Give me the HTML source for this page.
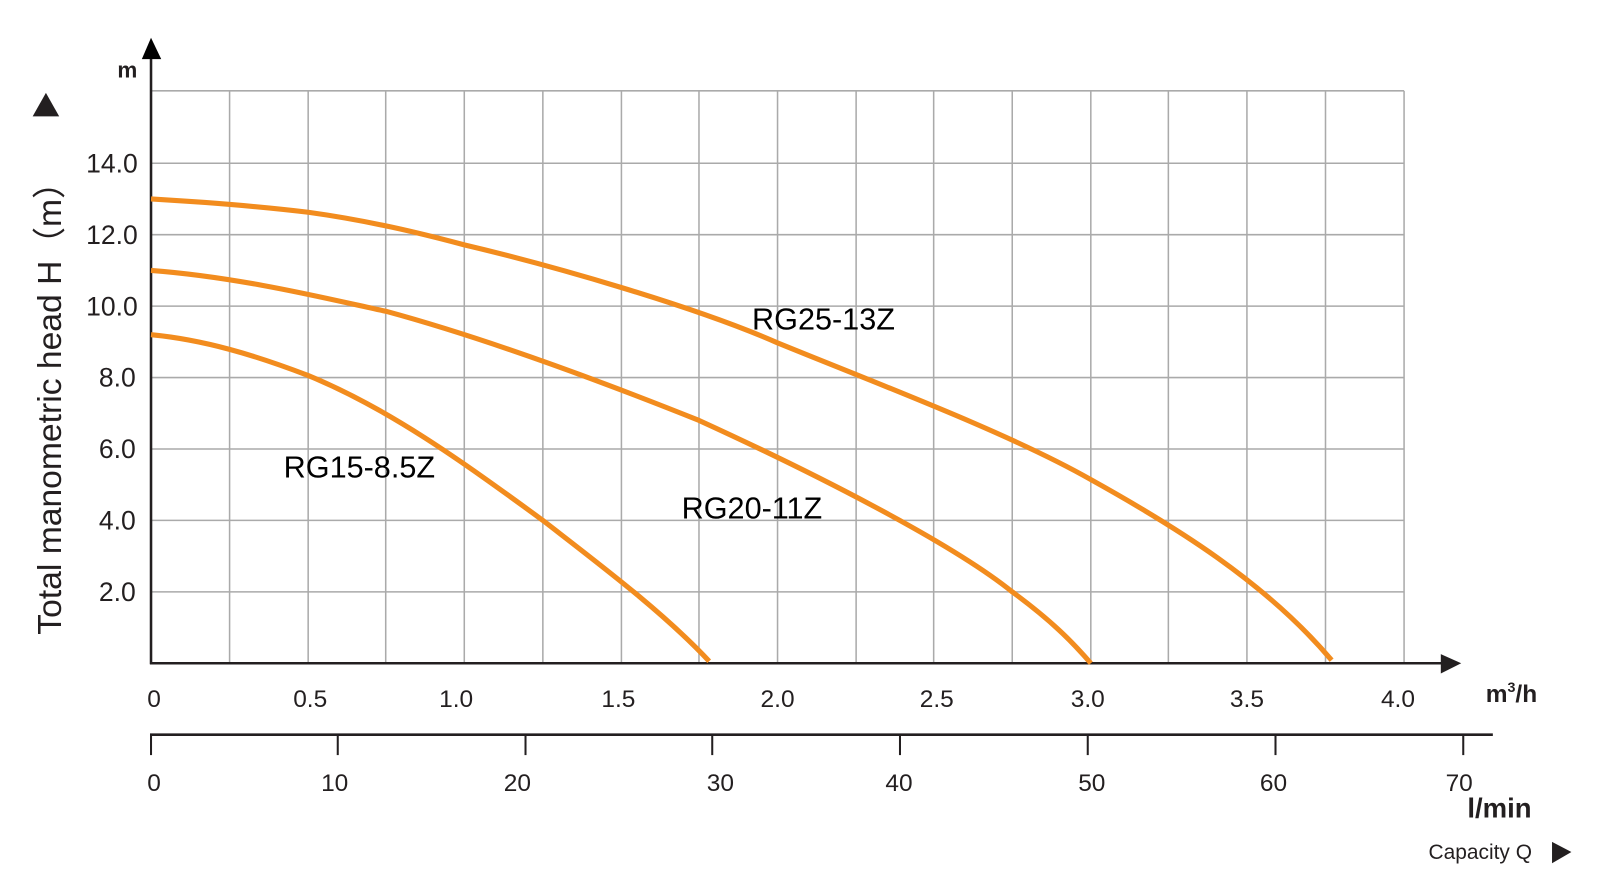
<!DOCTYPE html>
<html><head><meta charset="utf-8"><style>
html,body{margin:0;padding:0;background:#fff;overflow:hidden;}
svg{display:block;font-family:"Liberation Sans",Arial,sans-serif;}
</style></head><body>
<svg width="1600" height="887" viewBox="0 0 1600 887" xmlns="http://www.w3.org/2000/svg">
<g transform="scale(1.0204)">
<g stroke="#aaa" stroke-width="1.5">
<line x1="148" y1="89" x2="1376" y2="89"/><line x1="148" y1="160" x2="1376" y2="160"/><line x1="148" y1="230" x2="1376" y2="230"/><line x1="148" y1="300" x2="1376" y2="300"/><line x1="148" y1="370" x2="1376" y2="370"/><line x1="148" y1="440" x2="1376" y2="440"/><line x1="148" y1="510" x2="1376" y2="510"/><line x1="148" y1="580" x2="1376" y2="580"/>
<line x1="225" y1="89" x2="225" y2="650"/><line x1="302" y1="89" x2="302" y2="650"/><line x1="378" y1="89" x2="378" y2="650"/><line x1="455" y1="89" x2="455" y2="650"/><line x1="532" y1="89" x2="532" y2="650"/><line x1="609" y1="89" x2="609" y2="650"/><line x1="685" y1="89" x2="685" y2="650"/><line x1="762" y1="89" x2="762" y2="650"/><line x1="839" y1="89" x2="839" y2="650"/><line x1="915" y1="89" x2="915" y2="650"/><line x1="992" y1="89" x2="992" y2="650"/><line x1="1069" y1="89" x2="1069" y2="650"/><line x1="1145" y1="89" x2="1145" y2="650"/><line x1="1222" y1="89" x2="1222" y2="650"/><line x1="1299" y1="89" x2="1299" y2="650"/><line x1="1376" y1="89" x2="1376" y2="650"/>
</g>
<g stroke="#231f20" stroke-width="2.5" fill="none">
<line x1="148" y1="52" x2="148" y2="651"/><line x1="147" y1="650" x2="1415" y2="650"/>
<line x1="147" y1="720" x2="1463" y2="720"/>
</g>
<g stroke="#231f20" stroke-width="2">
<line x1="148" y1="720" x2="148" y2="740"/><line x1="331" y1="720" x2="331" y2="740"/><line x1="515" y1="720" x2="515" y2="740"/><line x1="698" y1="720" x2="698" y2="740"/><line x1="882" y1="720" x2="882" y2="740"/><line x1="1066" y1="720" x2="1066" y2="740"/><line x1="1250" y1="720" x2="1250" y2="740"/><line x1="1434" y1="720" x2="1434" y2="740"/>
</g>
<polygon points="148,37 139,58 158,58" fill="#000"/>
<polygon points="1432,650 1412,641 1412,660" fill="#231f20"/>
<polygon points="45,91 32,114 58,114" fill="#231f20"/>
<polygon points="1540,835 1521,825 1521,846" fill="#231f20"/>
<g fill="none" stroke="#f28c1e" stroke-width="5" stroke-linejoin="round" stroke-linecap="butt">
<path d="M148,195 C200,198 260,203 302,208 C360,216 410,228 455,240 C540,260 680,300 762,336 C860,376 990,425 1069,470 C1150,515 1240,570 1305,647"/>
<path d="M148,265 C240,272 330,295 378,305 C470,330 580,370 685,412 C790,460 930,530 992,580 C1030,608 1050,628 1069,650"/>
<path d="M148,328 C200,333 250,348 302,368 C380,400 450,450 532,510 C590,555 650,600 695,648"/>
</g>
<g font-size="26" fill="#231f20" text-anchor="end">
<text x="135" y="169">14.0</text><text x="135" y="239">12.0</text><text x="135" y="309">10.0</text><text x="133" y="379">8.0</text><text x="133" y="449">6.0</text><text x="133" y="519">4.0</text><text x="133" y="589">2.0</text>
</g>
<g font-size="24" fill="#231f20" text-anchor="middle">
<text x="151" y="693">0</text><text x="304" y="693">0.5</text><text x="447" y="693">1.0</text><text x="606" y="693">1.5</text><text x="762" y="693">2.0</text><text x="918" y="693">2.5</text><text x="1066" y="693">3.0</text><text x="1222" y="693">3.5</text><text x="1370" y="693">4.0</text>
<text x="151" y="775">0</text><text x="328" y="775">10</text><text x="507" y="775">20</text><text x="706" y="775">30</text><text x="881" y="775">40</text><text x="1070" y="775">50</text><text x="1248" y="775">60</text><text x="1430" y="775">70</text>
</g>
<text x="115" y="76" font-size="22" font-weight="bold" fill="#231f20">m</text>
<text x="1456" y="688" font-size="24" font-weight="bold" fill="#231f20">m<tspan font-size="14" dy="-10">3</tspan><tspan dy="10">/h</tspan></text>
<text x="1438" y="801" font-size="27" font-weight="bold" fill="#231f20">l/min</text>
<text x="1400" y="842" font-size="20.5" fill="#231f20">Capacity Q</text>
<text transform="translate(60,392) rotate(-90)" font-size="33" fill="#231f20" text-anchor="middle">Total manometric head H（m）</text>
<g font-size="30" fill="#000">
<text x="737" y="323">RG25-13Z</text><text x="278" y="468">RG15-8.5Z</text><text x="668" y="508">RG20-11Z</text>
</g>
</g>
</svg>
</body></html>
